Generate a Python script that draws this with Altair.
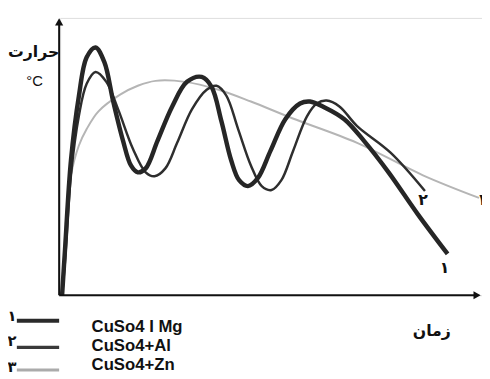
import altair as alt
import pandas as pd

# Curve data (time units, temperature units)
mg_t = [2, 5, 11, 19, 27, 36, 45, 54, 64, 72, 79, 87, 99, 114, 129, 144, 154, 164, 174, 182, 191, 201, 214, 229, 244, 254, 269, 289, 309, 334, 364, 394]
mg_v = [0, 47, 137, 202, 242, 252, 237, 197, 157, 132, 125, 129, 157, 192, 217, 222, 212, 177, 137, 117, 111, 119, 147, 179, 195, 197, 191, 179, 157, 125, 82, 42]

al_t = [2, 5, 11, 19, 27, 36, 47, 59, 74, 87, 96, 107, 119, 134, 149, 159, 169, 181, 194, 205, 215, 225, 237, 251, 261, 271, 284, 302, 336, 371]
al_v = [0, 35, 122, 182, 215, 227, 217, 189, 149, 125, 121, 129, 155, 189, 209, 213, 203, 169, 132, 111, 107, 117, 147, 182, 195, 198, 192, 172, 145, 106]

zn_t = [2, 4, 7, 11, 19, 27, 39, 61, 79, 97, 127, 161, 194, 236, 302, 369, 426]
zn_v = [0, 40, 90, 122, 152, 169, 187, 204, 213, 218, 217, 209, 197, 180, 155, 122, 99]

legend_labels = ["CuSo4 I Mg", "CuSo4+Al", "CuSo4+Zn"]
legend_nums = ["۱", "۲", "۳"]
curve_nums = ["۱", "۲", "۳"]
y_title = "حرارت"
y_unit = "°C"
x_title = "زمان"

xs = alt.Scale(domain=[0, 429], nice=False, zero=False)
ys = alt.Scale(domain=[0, 282], nice=False, zero=False)


def XE(f="t"):
    return alt.X(f"{f}:Q", scale=xs, axis=None)


def YE(f="v"):
    return alt.Y(f"{f}:Q", scale=ys, axis=None)


def curve(t, v, color, width):
    df = pd.DataFrame({"t": t, "v": v})
    return alt.Chart(df).mark_line(color=color, strokeWidth=width, interpolate="catmull-rom").encode(
        x=XE(), y=YE()
    )


zn = curve(zn_t, zn_v, "#b5b5b5", 2)
al = curve(al_t, al_v, "#2e2e2e", 2.5)
mg = curve(mg_t, mg_v, "#262626", 4.5)

# axes
axes_df = pd.DataFrame({"t": [-1, -1], "t2": [-1, 421], "v": [0, 0], "v2": [277, 0]})
axes = alt.Chart(axes_df).mark_rule(color="#111", strokeWidth=2).encode(
    x=XE(), x2="t2:Q", y=YE(), y2="v2:Q"
)
up_df = pd.DataFrame({"t": [-1], "v": [278]})
up = alt.Chart(up_df).mark_point(shape="triangle-up", filled=True, color="#111", opacity=1, size=70).encode(
    x=XE(), y=YE()
)
right_df = pd.DataFrame({"t": [424], "v": [0]})
right = alt.Chart(right_df).mark_point(shape="triangle-right", filled=True, color="#111", opacity=1, size=70).encode(
    x=XE(), y=YE()
)

# axis titles
fa_df = pd.DataFrame({"t": [-27, 378], "v": [247, -36], "s": [y_title, x_title]})
fa = alt.Chart(fa_df).mark_text(font="DejaVu Sans", fontWeight="bold", fontSize=16, color="#111").encode(
    x=XE(), y=YE(), text="s:N"
)
unit_df = pd.DataFrame({"t": [-26], "v": [218], "s": [y_unit]})
unit = alt.Chart(unit_df).mark_text(font="Liberation Sans", fontSize=15, color="#111").encode(
    x=XE(), y=YE(), text="s:N"
)

# curve-end labels
cl_df = pd.DataFrame({"t": [391, 369, 431], "v": [28, 97, 97], "s": [curve_nums[0], curve_nums[1], curve_nums[2]]})
cl = alt.Chart(cl_df).mark_text(font="DejaVu Sans", fontWeight="bold", fontSize=16, color="#111").encode(
    x=XE(), y=YE(), text="s:N"
)

# legend
lg_line_df = pd.DataFrame({"t": [-44] * 3, "t2": [-1] * 3, "v": [-26, -53, -76], "k": [0, 1, 2]})
lg_lines = alt.Chart(lg_line_df).mark_rule().encode(
    x=XE(), x2="t2:Q", y=YE(),
    color=alt.Color("k:O", scale=alt.Scale(domain=[0, 1, 2], range=["#2a2a2a", "#3a3a3a", "#ababab"]), legend=None),
    strokeWidth=alt.StrokeWidth("k:O", scale=alt.Scale(domain=[0, 1, 2], range=[4, 3, 2.5]), legend=None),
)
lg_num_df = pd.DataFrame({"t": [-49, -49, -49], "v": [-21, -47, -73], "s": legend_nums})
lg_nums = alt.Chart(lg_num_df).mark_text(font="DejaVu Sans", fontWeight="bold", fontSize=15, color="#111").encode(
    x=XE(), y=YE(), text="s:N"
)
lg_txt_df = pd.DataFrame({"t": [32, 32, 32], "v": [-32, -52, -71], "s": legend_labels})
lg_txt = alt.Chart(lg_txt_df).mark_text(font="Liberation Sans", fontWeight="bold", fontSize=17, color="#111", align="left").encode(
    x=XE(), y=YE(), text="s:N"
)

chart = alt.layer(zn, al, mg, axes, up, right, fa, unit, cl, lg_lines, lg_nums, lg_txt).properties(
    width=429, height=282,
    padding={"left": 53, "top": 7, "right": 0, "bottom": 78},
    autosize=alt.AutoSizeParams(type="none"),
).configure_view(stroke=None).configure(background="white")

chart.save("out.html", embed_options={"renderer": "svg", "actions": False})
